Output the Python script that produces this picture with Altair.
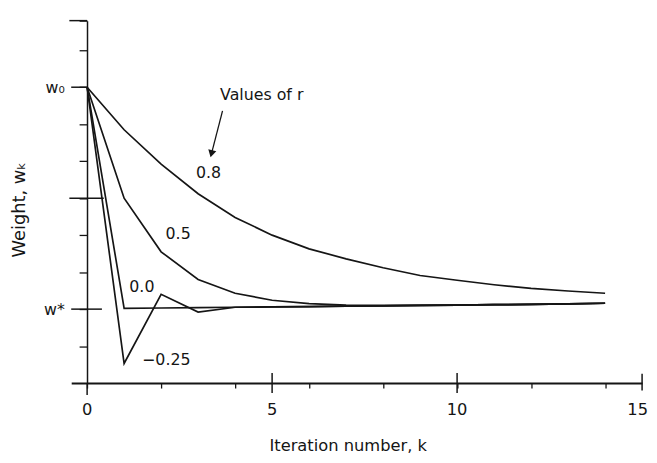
import altair as alt
import pandas as pd

# ---- data ----
k = list(range(15))
w_r08 = [8.0, 6.85, 5.92, 5.12, 4.48, 4.0, 3.63, 3.36, 3.12, 2.91, 2.78, 2.66, 2.56, 2.49, 2.43]
w_r05 = [8.0, 5.0, 3.55, 2.8, 2.43, 2.24, 2.15, 2.11, 2.1, 2.1, 2.11, 2.12, 2.13, 2.14, 2.16]
w_r00 = [8.0, 2.02, 2.03, 2.04, 2.05, 2.06, 2.07, 2.08, 2.09, 2.1, 2.11, 2.12, 2.13, 2.14, 2.16]
w_rm025 = [8.0, 0.53, 2.4, 1.92, 2.05, 2.06, 2.07, 2.08, 2.09, 2.1, 2.11, 2.12, 2.13, 2.14, 2.16]

series_names = ["0.8", "0.5", "0.0", "-0.25"]
series_vals = [w_r08, w_r05, w_r00, w_rm025]

# x tick labels
xlab_vals = [0, 5, 10]
xlab_last = [15]
xlab_y = -0.72

# curve labels
lab_text = ["0.8", "0.5", "0.0", "\u22120.25", "Values of r"]
lab_x = [3.28, 2.46, 1.48, 2.14, 4.72]
lab_y = [5.68, 4.03, 2.59, 0.61, 7.79]

# arrow from "Values of r" to the 0.8 curve
arrow_x = [3.66, 3.36]
arrow_y = [7.36, 6.2]

# special (long) tick marks
ytick_long_y = [9.8, 8.0, 5.0, 2.0]
ytick_long_x1 = [-0.48, -0.43, -0.48, -0.43]
ytick_long_x2 = [0.0, 0.0, 0.45, 0.4]
xtick_long_x = [0.0, 5.0, 10.0, 15.0]
xtick_long_y1 = [-0.32, -0.27, -0.27, -0.2]
xtick_long_y2 = [0.0, 0.27, 0.27, 0.25]

FONT = "DejaVu Sans"
INK = "#151515"

rows = []
for name, vals in zip(series_names, series_vals):
    for kk, v in zip(k, vals):
        rows.append({"k": kk, "w": v, "r": name})
df = pd.DataFrame(rows)

xs = alt.Scale(domain=[-0.43, 15], nice=False, zero=False)
ys = alt.Scale(domain=[0, 9.8], nice=False, zero=False)

xaxis = alt.Axis(
    values=list(range(16)),
    labels=False,
    tickSize=5, tickColor=INK, tickWidth=1.3,
    domainColor=INK, domainWidth=2,
    grid=False,
    title="Iteration number, k",
    titleFont=FONT, titleFontSize=16.5, titleFontWeight="normal", titleColor=INK,
    titleX=280, titleY=63, titleBaseline="middle",
)

yaxis = alt.Axis(
    values=[1, 2, 3, 4, 5, 6, 7, 8, 9, 9.8],
    labelExpr="datum.value == 8 ? 'w\u2080' : (datum.value == 2 ? 'w*' : '')",
    tickSize=8, tickColor=INK, tickWidth=1.3,
    domainColor=INK, domainWidth=1.5,
    grid=False, offset=-16,
    labelFont=FONT, labelFontSize=16, labelColor=INK, labelPadding=15,
    labelOverlap=False,
    title="Weight, w\u2096",
    titleFont=FONT, titleFontSize=18, titleFontWeight="normal", titleColor=INK,
    titleX=-68, titleY=191, titleBaseline="middle", titleAlign="center",
)

lines = alt.Chart(df).mark_line(color=INK, strokeWidth=1.7).encode(
    x=alt.X("k:Q", scale=xs, axis=xaxis),
    y=alt.Y("w:Q", scale=ys, axis=yaxis),
    detail="r:N",
)

xl_df = pd.DataFrame({"x": xlab_vals, "y": [xlab_y] * len(xlab_vals), "t": [str(v) for v in xlab_vals]})
xlabels = alt.Chart(xl_df).mark_text(
    font=FONT, fontSize=16.5, color=INK, align="center", baseline="middle"
).encode(x=alt.X("x:Q", scale=xs), y=alt.Y("y:Q", scale=ys), text="t:N")

xl2_df = pd.DataFrame({"x": xlab_last, "y": [xlab_y], "t": [str(v) for v in xlab_last]})
xlabel_last = alt.Chart(xl2_df).mark_text(
    font=FONT, fontSize=16.5, color=INK, align="right", baseline="middle", dx=6
).encode(x=alt.X("x:Q", scale=xs), y=alt.Y("y:Q", scale=ys), text="t:N")

lab_df = pd.DataFrame({"t": lab_text, "x": lab_x, "y": lab_y})
labels = alt.Chart(lab_df).mark_text(
    font=FONT, fontSize=16, color=INK, align="center", baseline="middle"
).encode(x=alt.X("x:Q", scale=xs), y=alt.Y("y:Q", scale=ys), text="t:N")

arr_df = pd.DataFrame({"x": [arrow_x[0]], "y": [arrow_y[0]], "x2": [arrow_x[1]], "y2": [arrow_y[1]]})
arrow_line = alt.Chart(arr_df).mark_rule(color=INK, strokeWidth=1.3).encode(
    x=alt.X("x:Q", scale=xs), y=alt.Y("y:Q", scale=ys), x2="x2:Q", y2="y2:Q"
)
head_df = pd.DataFrame({"x": [arrow_x[1]], "y": [arrow_y[1]]})
arrow_head = alt.Chart(head_df).mark_point(
    shape="triangle-down", filled=True, color=INK, size=70, angle=14, opacity=1
).encode(x=alt.X("x:Q", scale=xs), y=alt.Y("y:Q", scale=ys))

yt_df = pd.DataFrame({"y": ytick_long_y, "x1": ytick_long_x1, "x2": ytick_long_x2})
ytick_rules = alt.Chart(yt_df).mark_rule(color=INK, strokeWidth=1.5).encode(
    x=alt.X("x1:Q", scale=xs), x2="x2:Q", y=alt.Y("y:Q", scale=ys)
)
xt_df = pd.DataFrame({"x": xtick_long_x, "y1": xtick_long_y1, "y2": xtick_long_y2})
xtick_rules = alt.Chart(xt_df).mark_rule(color=INK, strokeWidth=1.5).encode(
    x=alt.X("x:Q", scale=xs), y=alt.Y("y1:Q", scale=ys), y2="y2:Q"
)

chart = alt.layer(lines, xlabels, xlabel_last, labels, arrow_line, arrow_head, ytick_rules, xtick_rules).properties(
    width=578, height=367,
    autosize=alt.AutoSizeParams(type="none"),
    padding={"left": 64, "top": 10, "right": 7, "bottom": 70},
    background="white",
).configure_view(stroke=None)

chart.save("out.html", embed_options={"renderer": "svg", "actions": False})
